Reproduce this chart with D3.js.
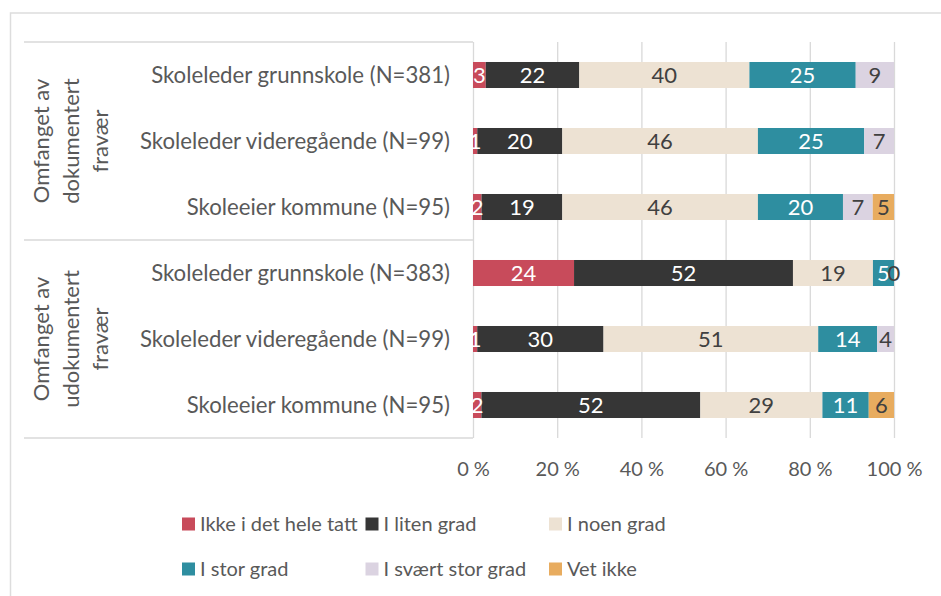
<!DOCTYPE html>
<html>
<head>
<meta charset="utf-8">
<script src="https://cdn.jsdelivr.net/npm/d3@7"></script>
<style>
  body { margin: 0; background: #fff; }
  svg { display: block; font-family: Lato, "Open Sans", sans-serif; }
</style>
</head>
<body>
<div id="wrapper"></div>
<script>
// data (percent)
const categories = [
  "Skoleleder grunnskole (N=381)",
  "Skoleleder videregående (N=99)",
  "Skoleeier kommune (N=95)",
  "Skoleleder grunnskole  (N=383)",
  "Skoleleder videregående (N=99)",
  "Skoleeier kommune (N=95)"
];
const groupLines = [
  ["Omfanget av", "dokumentert", "fravær"],
  ["Omfanget av", "udokumentert", "fravær"]
];
const seriesNames = ["Ikke i det hele tatt", "I liten grad", "I noen grad", "I stor grad", "I svært stor grad", "Vet ikke"];
const ikkeIDetHeleTatt = [3, 1, 2, 24, 1, 2];
const iLitenGrad = [22, 20, 19, 52, 30, 52];
const iNoenGrad = [40, 46, 46, 19, 51, 29];
const iStorGrad = [25, 25, 20, 5, 14, 11];
const iSvaertStorGrad = [9, 7, 7, 0, 4, null];
const vetIkke = [null, null, 5, null, null, 6];
const xTicks = [0, 0.2, 0.4, 0.6, 0.8, 1];

const colors = ["#C84B5B", "#363636", "#EDE2D3", "#2E8EA0", "#DBD3E1", "#E8AC5F"];
const labelColors = ["#fff", "#fff", "#404040", "#fff", "#404040", "#404040"];

const seriesValues = [ikkeIDetHeleTatt, iLitenGrad, iNoenGrad, iStorGrad, iSvaertStorGrad, vetIkke];
const rows = categories.map((c, i) => {
  const r = { idx: i, name: c };
  seriesNames.forEach((s, k) => r[s] = seriesValues[k][i]);
  return r;
});

const width = 941, height = 596;
const plot = { left: 473, right: 894, top: 42, bottom: 438 };

const svg = d3.select("#wrapper").append("svg")
  .attr("width", width)
  .attr("height", height);

// outer chart frame
svg.append("rect")
  .attr("x", 10.5).attr("y", 13)
  .attr("width", 1000).attr("height", 1000)
  .attr("fill", "none")
  .attr("stroke", "#DDDDDD")
  .attr("stroke-width", 1.5);

const xScale = d3.scaleLinear().domain([0, 1]).range([plot.left, plot.right]);
const yScale = d3.scaleBand()
  .domain(d3.range(categories.length))
  .range([plot.top, plot.bottom])
  .paddingInner(0.606)
  .paddingOuter(0.303);

// gridlines
const grid = svg.append("g")
  .attr("transform", `translate(0,${plot.bottom})`)
  .call(d3.axisBottom(xScale).tickValues(xTicks).tickSize(-(plot.bottom - plot.top)).tickFormat(""));
grid.select(".domain").remove();
grid.selectAll("line").attr("stroke", "#D9D9D9").attr("stroke-width", 1.3);

// group box lines
const step = yScale.step();
const sepY = [plot.top, yScale(3) - step * yScale.paddingInner() / 2, plot.bottom];
svg.selectAll(".sep")
  .data(sepY)
  .enter()
  .append("line")
  .attr("x1", 24).attr("x2", plot.left)
  .attr("y1", d => d).attr("y2", d => d)
  .attr("stroke", "#D9D9D9")
  .attr("stroke-width", 1.3);

// stacked bars
const stack = d3.stack()
  .keys(seriesNames)
  .value((d, k) => d[k] || 0)
  .offset(d3.stackOffsetExpand);
const stacked = stack(rows);

const layers = svg.selectAll(".layer")
  .data(stacked)
  .enter()
  .append("g")
  .attr("fill", (d, i) => colors[i]);

layers.selectAll("rect")
  .data(d => d)
  .enter()
  .append("rect")
  .attr("x", d => xScale(d[0]))
  .attr("y", d => yScale(d.data.idx))
  .attr("width", d => xScale(d[1]) - xScale(d[0]))
  .attr("height", yScale.bandwidth());

// data labels
stacked.forEach((layer, k) => {
  svg.append("g")
    .selectAll("text")
    .data(layer.filter(d => d.data[layer.key] != null))
    .enter()
    .append("text")
    .attr("x", d => (xScale(d[0]) + xScale(d[1])) / 2)
    .attr("y", d => yScale(d.data.idx) + yScale.bandwidth() / 2)
    .attr("dy", "0.36em")
    .attr("text-anchor", "middle")
    .attr("fill", labelColors[k])
    .style("font-size", "22px")
    .text(d => d.data[layer.key]);
});

// category labels
svg.append("g")
  .selectAll("text")
  .data(rows)
  .enter()
  .append("text")
  .attr("x", plot.left - 23)
  .attr("y", d => yScale(d.idx) + yScale.bandwidth() / 2)
  .attr("dy", "0.36em")
  .attr("text-anchor", "end")
  .attr("fill", "#595959")
  .style("font-size", "22.2px")
  .text(d => d.name);

// rotated group labels
groupLines.forEach((lines, g) => {
  const cy = (yScale(g * 3) + yScale(g * 3 + 2) + yScale.bandwidth()) / 2;
  const t = svg.append("text")
    .attr("transform", `translate(0,${cy}) rotate(-90)`)
    .attr("text-anchor", "middle")
    .attr("fill", "#595959")
    .style("font-size", "22px");
  lines.forEach((line, j) => {
    t.append("tspan")
      .attr("x", 0)
      .attr("y", 49 + j * 29.5)
      .text(line);
  });
});

// x axis
const xAxis = svg.append("g")
  .attr("transform", `translate(0,${plot.bottom})`)
  .call(d3.axisBottom(xScale).tickValues(xTicks).tickSize(0).tickPadding(24)
    .tickFormat(d => Math.round(d * 100) + " %"));
xAxis.select(".domain").remove();
xAxis.selectAll("text")
  .attr("fill", "#595959")
  .style("font-size", "20px")
  .style("font-family", "Lato, sans-serif");

// legend
const legend = svg.append("g");
const legendItems = legend.selectAll("g")
  .data(seriesNames)
  .enter()
  .append("g")
  .attr("transform", (d, i) => `translate(${182 + (i % 3) * 183.5},${524 + Math.floor(i / 3) * 45})`);
legendItems.append("rect")
  .attr("x", 0).attr("y", -6.5)
  .attr("width", 13).attr("height", 13)
  .attr("fill", (d, i) => colors[i]);
legendItems.append("text")
  .attr("x", 18)
  .attr("dy", "0.36em")
  .attr("fill", "#595959")
  .style("font-size", "20px")
  .text(d => d);
</script>
</body>
</html>
